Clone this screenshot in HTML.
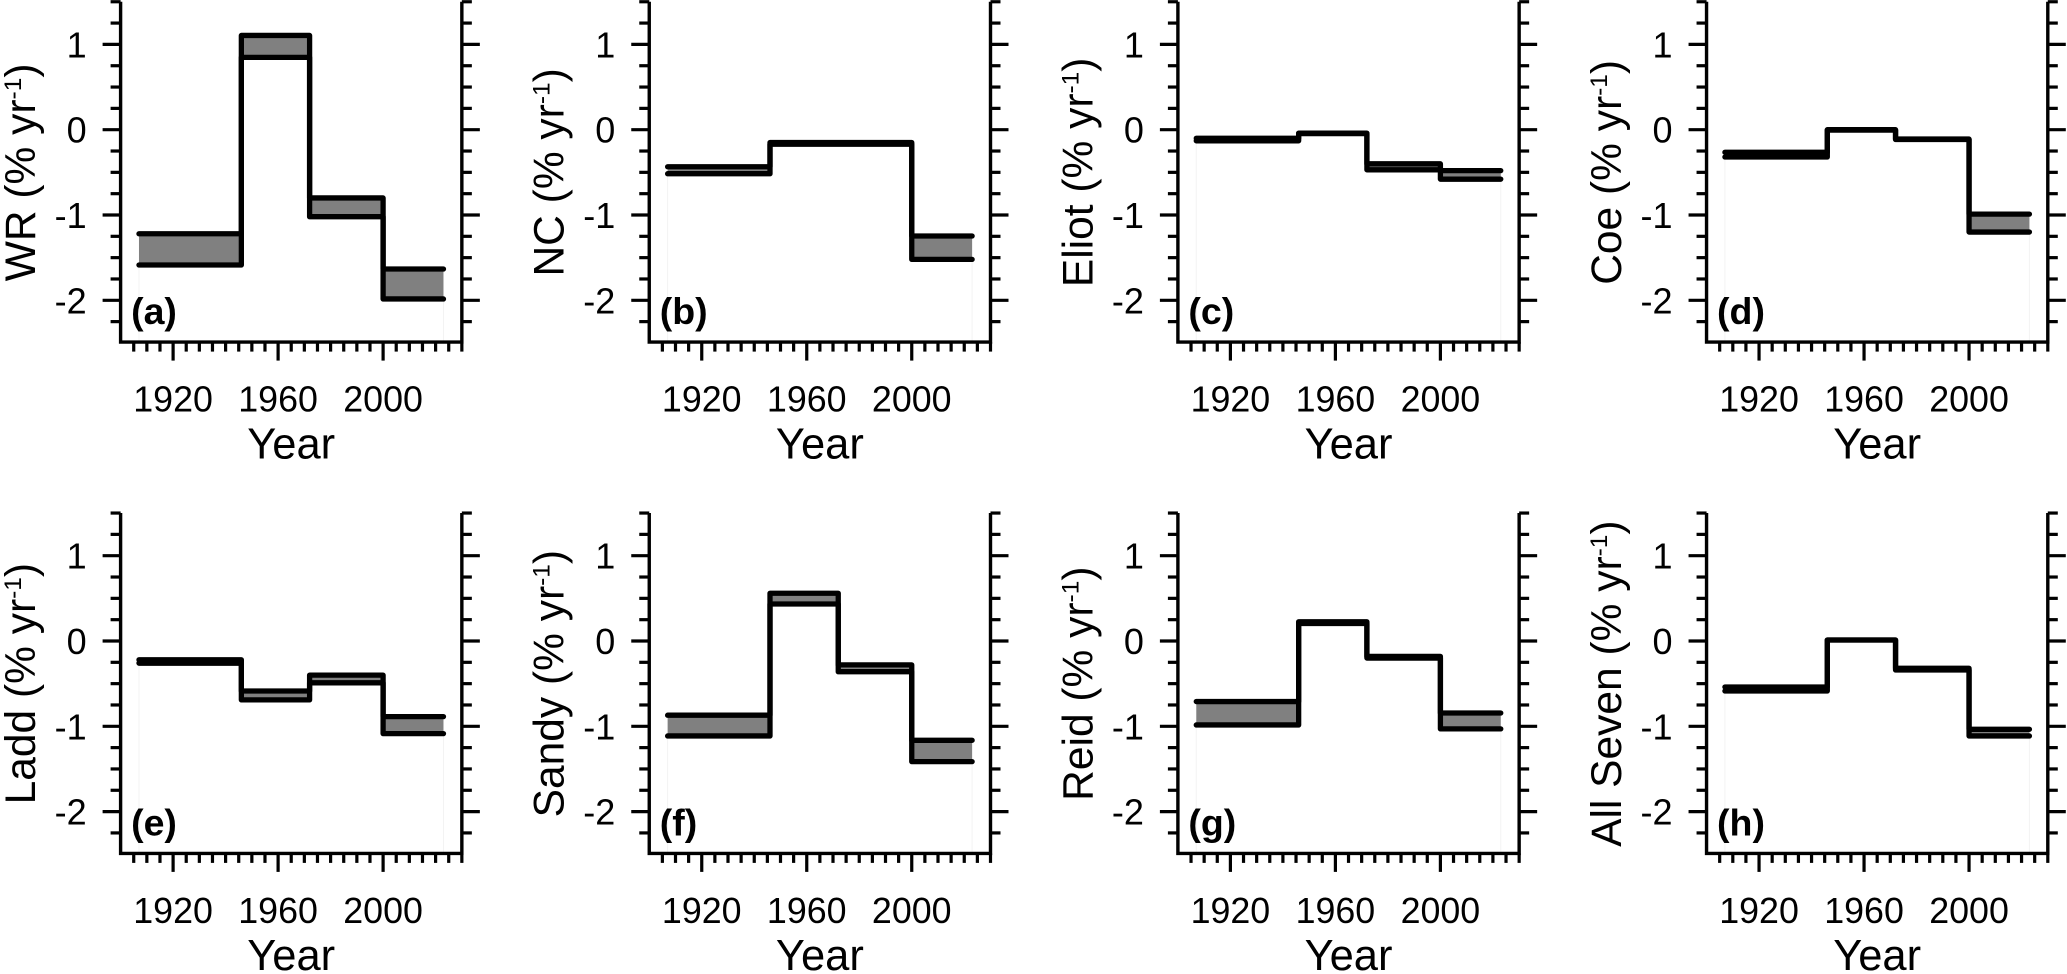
<!DOCTYPE html>
<html lang="en">
<head>
<meta charset="utf-8">
<title>Rate of change by period, eight panels</title>
<style>
html,body{margin:0;padding:0;background:#fff;}
svg{display:block;font-family:"Liberation Sans",Arial,sans-serif;}
</style>
</head>
<body>
<svg id="figure" xmlns="http://www.w3.org/2000/svg" width="2067" height="974" viewBox="0 0 2067 974"></svg>
<script>
// Shared axis data
const breakYears = [1907, 1946, 1972, 2000, 2023];
const xMajorTicks = [1920, 1960, 2000];
const yMajorTicks = [1, 0, -1, -2];

// Panel labels
const panelNames = ["WR", "NC", "Eliot", "Coe", "Ladd", "Sandy", "Reid", "All Seven"];
const panelTags = ["(a)", "(b)", "(c)", "(d)", "(e)", "(f)", "(g)", "(h)"];

// Upper and lower rate bounds (% per year) for each of the four periods
const wrUpper = [-1.22, 1.105, -0.80, -1.633];
const wrLower = [-1.586, 0.848, -1.02, -1.984];
const ncUpper = [-0.434, -0.15, -0.15, -1.246];
const ncLower = [-0.516, -0.17, -0.17, -1.52];
const eliotUpper = [-0.10, -0.04, -0.40, -0.48];
const eliotLower = [-0.13, -0.045, -0.47, -0.58];
const coeUpper = [-0.265, 0.0, -0.11, -0.99];
const coeLower = [-0.32, -0.005, -0.115, -1.2];
const laddUpper = [-0.22, -0.586, -0.40, -0.887];
const laddLower = [-0.26, -0.69, -0.49, -1.086];
const sandyUpper = [-0.87, 0.56, -0.28, -1.164];
const sandyLower = [-1.113, 0.434, -0.36, -1.414];
const reidUpper = [-0.71, 0.225, -0.18, -0.844];
const reidLower = [-0.984, 0.205, -0.20, -1.03];
const allSevenUpper = [-0.54, 0.012, -0.32, -1.035];
const allSevenLower = [-0.586, 0.012, -0.34, -1.113];

const upperSeries = [wrUpper, ncUpper, eliotUpper, coeUpper, laddUpper, sandyUpper, reidUpper, allSevenUpper];
const lowerSeries = [wrLower, ncLower, eliotLower, coeLower, laddLower, sandyLower, reidLower, allSevenLower];

const NS = "http://www.w3.org/2000/svg";
const svg = document.getElementById("figure");

function make(parent, tag, attrs, text) {
  const el = document.createElementNS(NS, tag);
  for (const k in attrs) el.setAttribute(k, attrs[k]);
  if (text !== undefined) el.textContent = text;
  parent.appendChild(el);
  return el;
}

function range(start, stop, step) {
  const out = [];
  const n = Math.round((stop - start) / step);
  for (let i = 0; i <= n; i++) out.push(start + i * step);
  return out;
}

function stepPath(values, xScale, yScale) {
  let d = "";
  values.forEach(function (v, i) {
    d += (i === 0 ? "M" : "L") + xScale(breakYears[i]).toFixed(2) + " " + yScale(v).toFixed(2);
    d += "L" + xScale(breakYears[i + 1]).toFixed(2) + " " + yScale(v).toFixed(2);
  });
  return d;
}

function drawPanel(index) {
  const col = index % 4;
  const row = Math.floor(index / 4);
  const xOrigin = 120.6 + col * 528.65;
  const yZero = row === 0 ? 129.7 : 641.0;
  const xScale = function (year) { return xOrigin + (year - 1900) * 2.625; };
  const yScale = function (v) { return yZero - v * 85.3; };
  const axisLeft = xScale(1900);
  const axisRight = xScale(2030);
  const axisBottom = yScale(-2.49);
  const axisTop = yScale(1.5);
  const upper = upperSeries[index];
  const lower = lowerSeries[index];
  const name = panelNames[index];
  const slug = name.toLowerCase().replace(/ /g, "-");

  const g = make(svg, "g", {});
  
  

  // faint edges of the shaded band
  [breakYears[0], breakYears[4]].forEach(function (yr, k) {
    const edge = make(g, "line", {
      x1: xScale(yr), x2: xScale(yr),
      y1: yScale(lower[k === 0 ? 0 : 3]), y2: axisBottom,
      stroke: "#f3f3f3", "stroke-width": 1
    });
    
    
  });

  // shaded uncertainty bands
  upper.forEach(function (u, i) {
    const x0 = xScale(breakYears[i]);
    const x1 = xScale(breakYears[i + 1]);
    const band = make(g, "rect", {
      x: x0, y: yScale(u),
      width: x1 - x0, height: Math.abs(yScale(lower[i]) - yScale(u)),
      fill: "#808080"
    });
    
    
  });

  // step lines
  const upperLine = make(g, "path", {
    d: stepPath(upper, xScale, yScale), fill: "none", stroke: "#000",
    "stroke-width": 5.3, "stroke-linecap": "round", "stroke-linejoin": "round"
  });
  
  

  const lowerLine = make(g, "path", {
    d: stepPath(lower, xScale, yScale), fill: "none", stroke: "#000",
    "stroke-width": 5.3, "stroke-linecap": "round", "stroke-linejoin": "round"
  });
  
  

  // axis frame: left, bottom, right
  const frame = make(g, "path", {
    d: "M" + axisLeft + " " + axisTop + "V" + axisBottom + "H" + axisRight + "V" + axisTop,
    fill: "none", stroke: "#000", "stroke-width": 3.4, "stroke-linejoin": "miter"
  });
  
  

  // y ticks on both sides
  range(-2.25, 1.5, 0.25).forEach(function (v) {
    const major = Number.isInteger(v);
    const len = major ? 18 : 10;
    const leftTick = make(g, "line", {
      x1: axisLeft, x2: axisLeft - len, y1: yScale(v), y2: yScale(v),
      stroke: "#000", "stroke-width": 3.2
    });
    
    
    const rightTick = make(g, "line", {
      x1: axisRight, x2: axisRight + len, y1: yScale(v), y2: yScale(v),
      stroke: "#000", "stroke-width": 3.2
    });
    
    
  });

  // x ticks
  range(1905, 2030, 5).forEach(function (yr) {
    const major = xMajorTicks.indexOf(yr) >= 0;
    const tick = make(g, "line", {
      x1: xScale(yr), x2: xScale(yr), y1: axisBottom, y2: axisBottom + (major ? 18.5 : 9.5),
      stroke: "#000", "stroke-width": 3.2
    });
    
    
  });

  // tick labels
  yMajorTicks.forEach(function (v) {
    const label = make(g, "text", {
      x: axisLeft - 34, y: yScale(v) + 13, "text-anchor": "end",
      "font-size": 36, fill: "#000"
    }, String(v));
    
    
  });

  xMajorTicks.forEach(function (yr) {
    const label = make(g, "text", {
      x: xScale(yr), y: axisBottom + 69.5, "text-anchor": "middle",
      "font-size": 35.8, fill: "#000"
    }, String(yr));
    
    
  });

  // x-axis title
  const xTitle = make(g, "text", {
    x: (axisLeft + axisRight) / 2, y: axisBottom + 116.5, "text-anchor": "middle",
    "font-size": 43.5, fill: "#000"
  }, "Year");
  
  

  // y-axis title with superscript
  const yMid = yScale(-0.5);
  const yTitleX = axisLeft - 85.6;
  const yTitle = make(g, "text", {
    x: yTitleX, y: yMid, "text-anchor": "middle", "font-size": 42.5, fill: "#000",
    transform: "rotate(-90 " + yTitleX + " " + yMid + ")"
  });
  
  
  make(yTitle, "tspan", {}, name + " (% yr");
  make(yTitle, "tspan", { dy: -14, "font-size": 24.5 }, "-1");
  make(yTitle, "tspan", { dy: 14 }, ")");

  // panel letter
  const tag = make(g, "text", {
    x: axisLeft + 10.5, y: axisBottom - 18, "font-size": 37.5,
    "font-weight": "bold", fill: "#000"
  }, panelTags[index]);
  
  
}

panelNames.forEach(function (_, i) { drawPanel(i); });
</script>
</body>
</html>
